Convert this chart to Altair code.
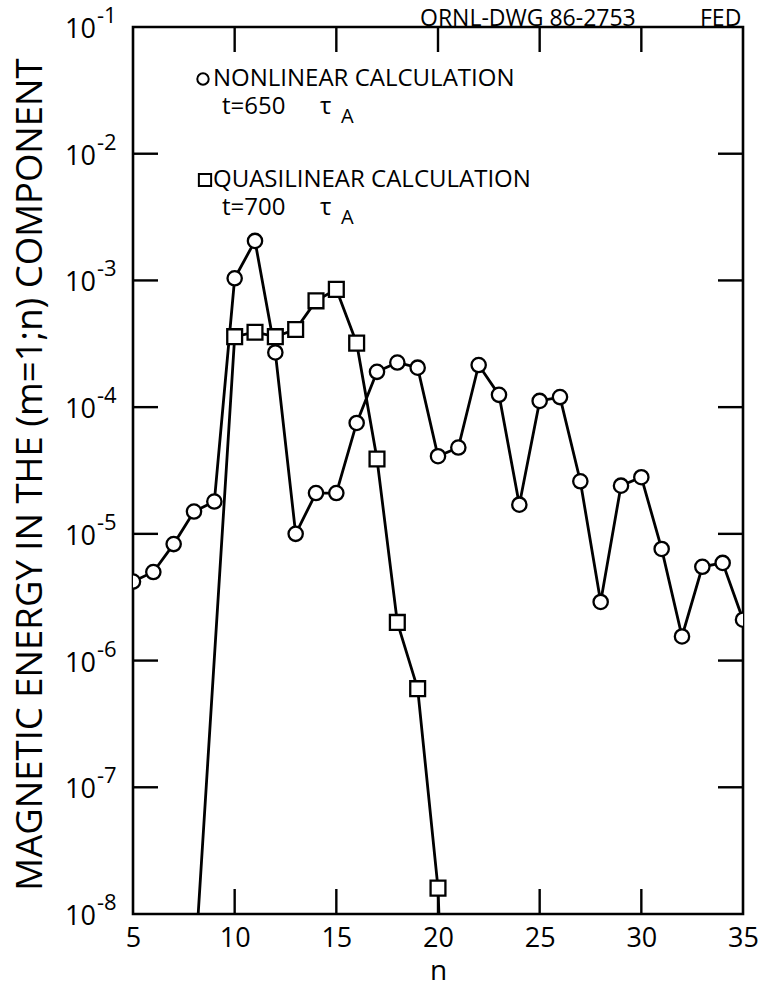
import altair as alt
import pandas as pd

FONT = "Open Sans"
WT = 400

# Nonlinear calculation, t = 650 tau_A : energy of each (m=1; n) harmonic
n_nonlin = list(range(5, 36))
e_nonlin = [4.2e-6, 5.0e-6, 8.3e-6, 1.5e-5, 1.8e-5, 1.04e-3, 2.05e-3, 2.7e-4,
            1.0e-5, 2.1e-5, 2.1e-5, 7.5e-5, 1.9e-4, 2.25e-4, 2.05e-4, 4.1e-5,
            4.8e-5, 2.15e-4, 1.25e-4, 1.7e-5, 1.12e-4, 1.2e-4, 2.6e-5, 2.9e-6,
            2.4e-5, 2.8e-5, 7.6e-6, 1.55e-6, 5.5e-6, 5.9e-6, 2.1e-6]

# Quasilinear calculation, t = 700 tau_A (end points fall below the axis)
n_quasi = [8, 10, 11, 12, 13, 14, 15, 16, 17, 18, 19, 20, 21]
e_quasi = [3.0e-9, 3.6e-4, 3.9e-4, 3.6e-4, 4.1e-4, 6.9e-4, 8.5e-4, 3.2e-4,
           3.9e-5, 2.0e-6, 6.0e-7, 1.6e-8, 5.0e-13]

# axis furniture
x_ticks = [5, 10, 15, 20, 25, 30, 35]
x_inner_ticks = [10, 15, 20, 25, 30]
y_exponents = [-1, -2, -3, -4, -5, -6, -7, -8]
y_inner_exponents = [-2, -3, -4, -5, -6, -7]

W, H = 610, 887

nonlin = pd.DataFrame({"n": n_nonlin, "energy": e_nonlin})
quasi = pd.DataFrame({"n": n_quasi, "energy": e_quasi})
decades = pd.DataFrame({"value": [10.0 ** e for e in y_exponents],
                        "sup": ["-" + str(-e) for e in y_exponents]})
inner_decades = pd.DataFrame({"value": [10.0 ** e for e in y_inner_exponents]})
inner_n = pd.DataFrame({"n": x_inner_ticks})
single = pd.DataFrame({"k": [0]})  # one row for free-standing annotations

xscale = alt.Scale(domain=[5, 35], nice=False, zero=False)
yscale = alt.Scale(type="log", domain=[1e-8, 1e-1], nice=False)

xaxis = alt.Axis(values=x_ticks, domain=False, ticks=False, grid=False,
                 labelFont=FONT, labelFontSize=27, labelFontWeight=WT,
                 labelColor="black", labelPadding=11, labelFlush=False,
                 labelOverlap=False, title="n", titleFont=FONT, titleFontSize=28,
                 titleFontWeight=WT, titleColor="black", titlePadding=6)

X = alt.X("n:Q", scale=xscale, axis=xaxis)
Y = alt.Y("energy:Q", scale=yscale, axis=None)
YV = alt.Y("value:Q", scale=yscale, axis=None)

LW = 2.8

nonlin_line = alt.Chart(nonlin).mark_line(color="black", strokeWidth=LW, clip=True).encode(x=X, y=Y)
nonlin_pts = alt.Chart(nonlin).mark_point(
    shape="circle", filled=True, fill="white", stroke="black",
    strokeWidth=2.3, size=205, opacity=1, clip=True).encode(x=X, y=Y)

quasi_line = alt.Chart(quasi).mark_line(color="black", strokeWidth=LW, clip=True).encode(x=X, y=Y)
quasi_pts = alt.Chart(quasi).mark_point(
    shape="square", filled=True, fill="white", stroke="black",
    strokeWidth=2.3, size=220, opacity=1, clip=True).encode(x=X, y=Y)

# inward ticks on all four sides
TL = 25
left_ticks = alt.Chart(inner_decades).mark_rule(color="black", strokeWidth=2.4).encode(
    x=alt.value(0), x2=alt.value(TL), y=YV)
right_ticks = alt.Chart(inner_decades).mark_rule(color="black", strokeWidth=2.4).encode(
    x=alt.value(W - TL), x2=alt.value(W), y=YV)
bottom_ticks = alt.Chart(inner_n).mark_rule(color="black", strokeWidth=2.4).encode(
    x=X, y=alt.value(H - TL), y2=alt.value(H))
top_ticks = alt.Chart(inner_n).mark_rule(color="black", strokeWidth=2.4).encode(
    x=X, y=alt.value(0), y2=alt.value(TL))

# decade labels 10^-k
ten_labels = alt.Chart(decades).mark_text(
    align="right", baseline="middle", font=FONT, fontSize=27, fontWeight=WT,
    color="black", dy=3).encode(x=alt.value(-37), y=YV, text=alt.value("10"))
sup_labels = alt.Chart(decades).mark_text(
    align="left", baseline="middle", font=FONT, fontSize=22, fontWeight=WT,
    color="black", dy=-11).encode(x=alt.value(-36), y=YV, text="sup:N")


def label(txt, x, y, size=24, align="left", angle=0):
    return alt.Chart(single).mark_text(
        align=align, baseline="middle", font=FONT, fontSize=size, fontWeight=WT,
        color="black", angle=angle).encode(
        x=alt.value(x), y=alt.value(y), text=alt.value(txt))


y_title = label("MAGNETIC ENERGY IN THE (m=1;n) COMPONENT", -102, H / 2 + 4,
                size=36.5, align="center", angle=270)

legend_circle = alt.Chart(single).mark_point(
    shape="circle", filled=True, fill="white", stroke="black", strokeWidth=2,
    size=130, opacity=1).encode(x=alt.value(70), y=alt.value(52))
legend_square = alt.Chart(single).mark_point(
    shape="square", filled=True, fill="white", stroke="black", strokeWidth=2,
    size=150, opacity=1).encode(x=alt.value(72), y=alt.value(153))

legend = [
    legend_circle,
    label("NONLINEAR CALCULATION", 80, 52),
    label("t=650", 89, 80),
    label("τ", 187, 80),
    label("A", 208, 90, size=20),
    legend_square,
    label("QUASILINEAR CALCULATION", 80, 153),
    label("t=700", 89, 181),
    label("τ", 187, 181),
    label("A", 208, 191, size=20),
]

stamp = [
    label("ORNL-DWG 86-2753", 287, -8, size=23),
    label("FED", 567, -8, size=23),
]

chart = alt.layer(
    left_ticks, right_ticks, bottom_ticks, top_ticks,
    nonlin_line, quasi_line, nonlin_pts, quasi_pts,
    ten_labels, sup_labels, y_title, *legend, *stamp,
).properties(
    width=W, height=H,
    autosize=alt.AutoSizeParams(type="none"),
    padding={"left": 133, "top": 27, "right": 21, "bottom": 77},
    background="white",
).configure_view(stroke="black", strokeWidth=2.6)

chart.save("out.html", embed_options={"renderer": "svg", "actions": False})
